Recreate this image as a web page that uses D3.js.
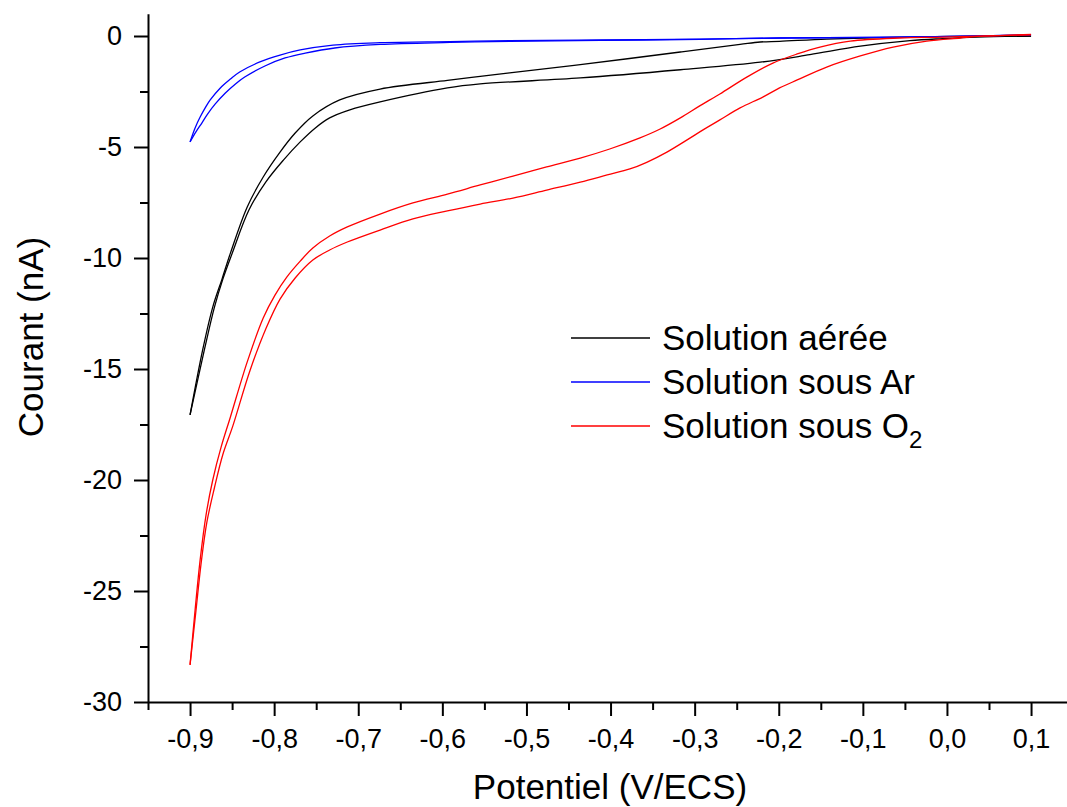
<!DOCTYPE html>
<html>
<head>
<meta charset="utf-8">
<script src="https://cdn.jsdelivr.net/npm/d3@7"></script>
<style>
  html, body { margin: 0; padding: 0; background: #fff; }
  svg { display: block; font-family: "Liberation Sans", Arial, sans-serif; }
</style>
</head>
<body>
<svg id="chart" width="1067" height="807"></svg>
<script>
// ---------- DATA (potential in V/ECS, current in nA) ----------
// Solution aérée (black) — two branches of the voltammogram
const airUpperE = [-0.900, -0.885, -0.873, -0.862, -0.852, -0.832, -0.813, -0.793, -0.775, -0.754, -0.722, -0.674, -0.594, -0.555, -0.520, -0.436, -0.317, -0.246, -0.222, -0.199, -0.143, -0.064, 0.004, 0.100];
const airUpperI = [-17.07, -14.14, -12.21, -10.95, -9.78, -7.70, -6.35, -5.23, -4.37, -3.60, -2.88, -2.39, -2.00, -1.82, -1.66, -1.29, -0.72, -0.38, -0.27, -0.24, -0.14, -0.06, -0.02, 0.00];
const airLowerE = [-0.900, -0.883, -0.871, -0.861, -0.850, -0.830, -0.810, -0.789, -0.769, -0.751, -0.734, -0.710, -0.674, -0.594, -0.555, -0.436, -0.317, -0.222, -0.163, -0.103, -0.044, -0.005, 0.036, 0.100];
const airLowerI = [-17.07, -14.14, -12.21, -10.95, -9.80, -7.84, -6.58, -5.59, -4.77, -4.14, -3.69, -3.33, -2.97, -2.34, -2.16, -1.89, -1.52, -1.18, -0.84, -0.46, -0.21, -0.12, -0.05, 0.00];

// Solution sous Ar (blue)
const arUpperE = [-0.900, -0.894, -0.888, -0.882, -0.876, -0.864, -0.852, -0.841, -0.817, -0.793, -0.769, -0.730, -0.674, -0.591, -0.520, -0.412, -0.294, -0.198, -0.056, 0.100];
const arUpperI = [-4.77, -4.14, -3.65, -3.24, -2.88, -2.34, -1.94, -1.62, -1.17, -0.86, -0.63, -0.41, -0.30, -0.25, -0.21, -0.18, -0.14, -0.09, -0.05, 0.05];
const arLowerE = [-0.900, -0.893, -0.886, -0.879, -0.870, -0.858, -0.846, -0.835, -0.811, -0.787, -0.763, -0.728, -0.674, -0.591, -0.520, -0.412, -0.294, -0.198, -0.056, 0.100];
const arLowerI = [-4.77, -4.32, -3.92, -3.51, -3.06, -2.57, -2.16, -1.85, -1.35, -0.99, -0.77, -0.54, -0.38, -0.29, -0.24, -0.20, -0.15, -0.09, -0.05, 0.05];

// Solution sous O2 (red)
const o2UpperE = [-0.900, -0.894, -0.888, -0.881, -0.873, -0.863, -0.852, -0.832, -0.813, -0.799, -0.785, -0.769, -0.754, -0.734, -0.713, -0.674, -0.635, -0.594, -0.555, -0.516, -0.476, -0.436, -0.401, -0.365, -0.341, -0.317, -0.294, -0.270, -0.238, -0.207, -0.178, -0.151, -0.115, -0.056, -0.005, 0.063, 0.100];
const o2UpperI = [-28.33, -25.86, -23.60, -21.58, -20.00, -18.51, -17.16, -14.68, -12.70, -11.67, -10.86, -10.14, -9.55, -9.01, -8.60, -8.02, -7.52, -7.12, -6.71, -6.31, -5.90, -5.50, -5.09, -4.59, -4.19, -3.69, -3.15, -2.61, -1.85, -1.22, -0.81, -0.50, -0.23, -0.09, -0.05, 0.02, 0.07];
const o2LowerE = [-0.900, -0.893, -0.887, -0.880, -0.871, -0.861, -0.849, -0.829, -0.810, -0.793, -0.775, -0.754, -0.734, -0.713, -0.674, -0.635, -0.594, -0.555, -0.516, -0.476, -0.436, -0.404, -0.377, -0.357, -0.333, -0.309, -0.290, -0.270, -0.246, -0.219, -0.199, -0.178, -0.143, -0.103, -0.064, -0.024, 0.016, 0.036, 0.100];
const o2LowerI = [-28.33, -25.90, -23.80, -21.90, -20.35, -18.85, -17.55, -15.10, -13.20, -11.85, -10.90, -10.09, -9.64, -9.28, -8.74, -8.24, -7.88, -7.57, -7.30, -6.94, -6.58, -6.26, -5.99, -5.69, -5.23, -4.68, -4.23, -3.78, -3.24, -2.75, -2.34, -1.98, -1.40, -0.90, -0.50, -0.23, -0.09, -0.02, 0.05];

// Axis ticks / labels
const xMajorTicks = [-0.9, -0.8, -0.7, -0.6, -0.5, -0.4, -0.3, -0.2, -0.1, 0.0, 0.1];
const xMinorTicks = [-0.95, -0.85, -0.75, -0.65, -0.55, -0.45, -0.35, -0.25, -0.15, -0.05, 0.05, 0.15];
const yMajorTicks = [0, -5, -10, -15, -20, -25, -30];
const yMinorTicks = [-2.5, -7.5, -12.5, -17.5, -22.5, -27.5];

const seriesNames = ["Solution aérée", "Solution sous Ar", "Solution sous O"];
const seriesColors = ["#000000", "#0000ff", "#ff0000"];

// ---------- DRAW ----------
const svg = d3.select("#chart");
const x = d3.scaleLinear().domain([-0.95, 0.15]).range([148, 148 + 1.1 * 841]);
const y = d3.scaleLinear().domain([-30, 1]).range([702, 702 - 31 * 22.2]);

const fmtX = v => d3.format(".1f")(v).replace("−", "-").replace(".", ",");
const fmtY = v => d3.format("d")(v).replace("−", "-");

// minor ticks
svg.append("g").attr("transform", "translate(0,702)")
  .call(d3.axisBottom(x).tickValues(xMinorTicks).tickSize(8).tickFormat(""))
  .call(g => g.select(".domain").remove())
  .call(g => g.selectAll("line").attr("stroke", "#000").attr("stroke-width", 2));
svg.append("g").attr("transform", "translate(148,0)")
  .call(d3.axisLeft(y).tickValues(yMinorTicks).tickSize(8).tickFormat(""))
  .call(g => g.select(".domain").remove())
  .call(g => g.selectAll("line").attr("stroke", "#000").attr("stroke-width", 2));

// major axes
const xAxis = svg.append("g").attr("transform", "translate(0,702)")
  .call(d3.axisBottom(x).tickValues(xMajorTicks).tickSize(14).tickSizeOuter(0).tickPadding(13).tickFormat(fmtX));
const yAxis = svg.append("g").attr("transform", "translate(148,0)")
  .call(d3.axisLeft(y).tickValues(yMajorTicks).tickSize(14).tickSizeOuter(0).tickPadding(12).tickFormat(fmtY));

[xAxis, yAxis].forEach(g => {
  g.select(".domain").attr("stroke", "#000").attr("stroke-width", 2);
  g.selectAll(".tick line").attr("stroke", "#000").attr("stroke-width", 2);
  g.selectAll(".tick text").attr("fill", "#000").style("font-size", "27px")
    .style("font-family", '"Liberation Sans", Arial, sans-serif');
});

// axis titles
svg.append("text").attr("x", 610).attr("y", 799).attr("text-anchor", "middle")
  .style("font-size", "35px").attr("fill", "#000").text("Potentiel (V/ECS)");
svg.append("text").attr("transform", "translate(43,337) rotate(-90)").attr("text-anchor", "middle")
  .style("font-size", "35px").attr("fill", "#000").text("Courant (nA)");

// curves
const line = d3.line().x(d => x(d[0])).y(d => y(d[1])).curve(d3.curveCatmullRom.alpha(0.5));
const branches = [
  [airUpperE, airUpperI, 0], [airLowerE, airLowerI, 0],
  [arUpperE, arUpperI, 1], [arLowerE, arLowerI, 1],
  [o2UpperE, o2UpperI, 2], [o2LowerE, o2LowerI, 2]
];
const curves = svg.append("g");
branches.forEach(([E, I, s]) => {
  curves.append("path")
    .datum(E.map((e, k) => [e, I[k]]))
    .attr("d", line)
    .attr("fill", "none")
    .attr("stroke", seriesColors[s])
    .attr("stroke-width", 1.3);
});

// legend
const legend = svg.append("g");
seriesNames.forEach((name, k) => {
  const ly = 338 + k * 44;
  legend.append("line").attr("x1", 571).attr("x2", 650).attr("y1", ly).attr("y2", ly)
    .attr("stroke", seriesColors[k]).attr("stroke-width", 1.3);
  const t = legend.append("text").attr("x", 662).attr("y", ly + 12)
    .style("font-size", "35px").attr("fill", "#000").text(name);
  if (k === 2) {
    t.append("tspan").attr("dy", 10).style("font-size", "24px").text("2");
  }
});
</script>
</body>
</html>
